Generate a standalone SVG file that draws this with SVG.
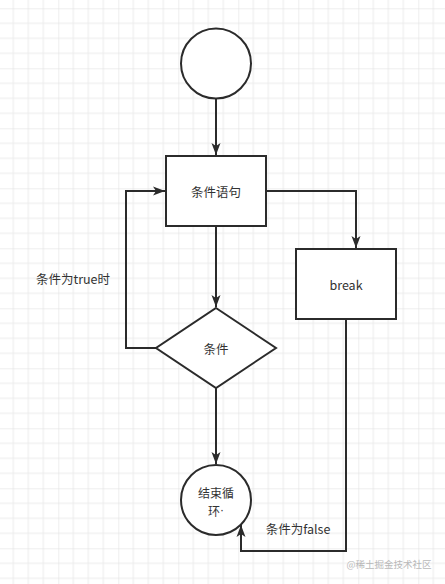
<svg xmlns="http://www.w3.org/2000/svg" width="445" height="584" viewBox="0 0 445 584">
<defs>
<pattern id="grid" patternUnits="userSpaceOnUse" x="-1.7" y="8.3" width="60" height="60">
<path d="M15,0V60M30,0V60M45,0V60M0,15H60M0,30H60M0,45H60" stroke="#ebebeb" stroke-width="1" fill="none"/>
<path d="M0,0V60M0,0H60" stroke="#dedede" stroke-width="1" fill="none"/>
</pattern>
<marker id="arr" markerUnits="userSpaceOnUse" markerWidth="12" markerHeight="10" refX="12" refY="5" orient="auto">
<path d="M0,0.5 L12,5 L0,9.5 L3,5 Z" fill="#2b2b2b"/>
</marker>
</defs>
<style>
.shape{fill:#ffffff;stroke:#2b2b2b;stroke-width:2}
.edge{fill:none;stroke:#2b2b2b;stroke-width:2}
.t{font-family:"Noto Sans CJK SC","Microsoft YaHei",sans-serif;font-size:12.5px;fill:#333333;text-anchor:middle;dominant-baseline:central}
.wm{font-family:"Noto Sans CJK SC",sans-serif;font-size:9.5px;fill:#b8b8b8;text-anchor:middle;dominant-baseline:central}
</style>
<rect width="445" height="584" fill="#ffffff"/>
<rect width="445" height="584" fill="url(#grid)"/>
<g id="connectors">
<path class="edge" d="M216,99 V155" marker-end="url(#arr)"/>
<path class="edge" d="M216,226 V307" marker-end="url(#arr)"/>
<path class="edge" d="M266,191 H356 V248" marker-end="url(#arr)"/>
<path class="edge" d="M156,348 H126 V191 H165" marker-end="url(#arr)"/>
<path class="edge" d="M216,388 V464" marker-end="url(#arr)"/>
<path class="edge" d="M346,320 V551 H241 V525" marker-end="url(#arr)"/>
<text class="t" x="73" y="278">条件为true时</text>
<text class="t" x="298" y="528">条件为false</text>
</g>
<g id="start">
<circle class="shape" cx="216" cy="63.5" r="35"/>
</g>
<g id="cond-stmt">
<rect class="shape" x="166" y="156" width="100" height="70"/>
<text class="t" x="216" y="191">条件语句</text>
</g>
<g id="break">
<rect class="shape" x="296" y="249" width="100" height="70"/>
<text class="t" x="346" y="284">break</text>
</g>
<g id="cond">
<path class="shape" d="M216,308 L276,348 L216,388 L156,348 Z"/>
<text class="t" x="216" y="348">条件</text>
</g>
<g id="end">
<circle class="shape" cx="216" cy="500" r="35"/>
<text class="t" style="font-size:12px"><tspan x="216" y="492">结束循</tspan><tspan x="216" y="510">环<tspan font-family="Liberation Sans">·</tspan></tspan></text>
</g>
<text class="wm" x="389" y="564">@稀土掘金技术社区</text>
</svg>
